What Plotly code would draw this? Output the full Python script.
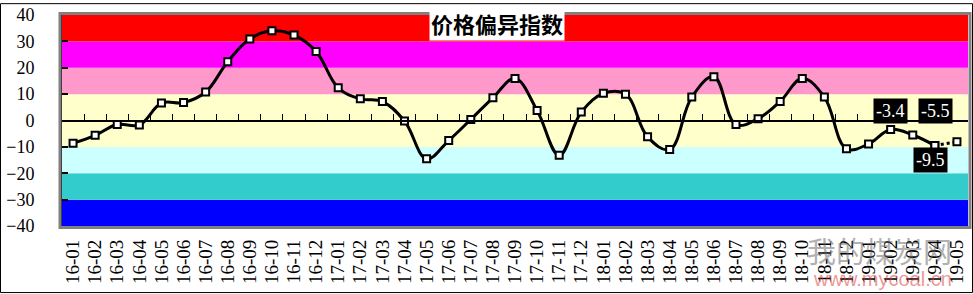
import plotly.graph_objects as go

categories = [
    "16-01", "16-02", "16-03", "16-04", "16-05", "16-06", "16-07", "16-08", "16-09", "16-10", "16-11", "16-12",
    "17-01", "17-02", "17-03", "17-04", "17-05", "17-06", "17-07", "17-08", "17-09", "17-10", "17-11", "17-12",
    "18-01", "18-02", "18-03", "18-04", "18-05", "18-06", "18-07", "18-08", "18-09", "18-10", "18-11", "18-12",
    "19-01", "19-02", "19-03", "19-04", "19-05",
]
values = [
    -8.6, -5.6, -1.5, -1.7, 6.6, 6.8, 10.8, 22.3, 30.9, 34.0, 32.4, 26.2,
    12.4, 8.2, 7.2, -0.2, -14.5, -7.6, 0.4, 8.6, 15.9, 3.8, -13.2, 3.2,
    10.3, 10.0, -6.2, -11.0, 8.9, 16.6, -1.5, 0.7, 7.2, 15.9, 8.9, -10.7,
    -8.9, -3.4, -5.5, -9.5, -8.1,
]
band_edges = [-40, -30, -20, -10, 0, 10, 20, 30, 40]
band_colors = ["#0000FF", "#33CCCC", "#CCFFFF", "#FFFFCC", "#FFFFCC", "#FF99CC", "#FF00FF", "#FF0000"]
labelled = ["19-02", "19-03", "19-04"]
label_texts = ["-3.4", "-5.5", "-9.5"]
label_shifts = [(0, 18), (23, 24), (-4, -14)]
title_text = "价格偏异指数"

n = len(categories)
W, H = 973, 294
ML, MR, MT, MB = 62, 5, 12, 68
PW, PH = W - ML - MR, H - MT - MB

fig = go.Figure()

fig.add_trace(go.Scatter(
    x=categories[:-1], y=values[:-1], mode="lines+markers",
    line=dict(color="black", width=3, shape="spline", smoothing=1.1),
    marker=dict(symbol="square", size=7, color="white", line=dict(color="black", width=2)),
    hoverinfo="skip", showlegend=False,
))
fig.add_trace(go.Scatter(
    x=categories[-2:], y=values[-2:], mode="lines+markers",
    line=dict(color="black", width=3, dash="dot"),
    marker=dict(symbol="square", size=7, color="white", line=dict(color="black", width=2)),
    hoverinfo="skip", showlegend=False,
))
fig.add_trace(go.Scatter(
    x=[-0.5, n - 0.5], y=[0, 0], xaxis="x2", mode="lines",
    line=dict(width=0), hoverinfo="skip", showlegend=False,
))

shapes = []
for i, c in enumerate(band_colors):
    shapes.append(dict(type="rect", xref="x domain", yref="y", x0=0, x1=1,
                       y0=band_edges[i], y1=band_edges[i + 1],
                       fillcolor=c, line=dict(width=0), layer="below"))
shapes.append(dict(type="rect", xref="paper", yref="paper",
                   x0=-2 / PW, x1=1 + 2 / PW, y0=-1.5 / PH, y1=1 + 1.5 / PH,
                   line=dict(color="#808080", width=3), fillcolor="rgba(0,0,0,0)", layer="above"))
shapes.append(dict(type="rect", xref="paper", yref="paper",
                   x0=(-ML + 0.5) / PW, x1=1 + (MR - 0.5) / PW,
                   y0=(-MB + 0.5) / PH, y1=1 + (MT - 0.5) / PH,
                   line=dict(color="black", width=1), fillcolor="rgba(0,0,0,0)", layer="above"))

annotations = []
for cat, txt, (dx, dy) in zip(labelled, label_texts, label_shifts):
    v = values[categories.index(cat)]
    annotations.append(dict(x=cat, y=v, xref="x", yref="y", text=txt, showarrow=False,
                            xshift=dx, yshift=dy, bgcolor="black", borderpad=2,
                            font=dict(family="Liberation Serif", size=18, color="white")))
annotations.append(dict(x=(497 - ML) / PW, y=1 + 1 / PH, xref="paper", yref="paper",
                        xanchor="center", yanchor="top", text="<b>" + title_text + "</b>",
                        showarrow=False, bgcolor="white", borderpad=1, yshift=9,
                        font=dict(family="Noto Sans CJK SC", size=22, color="black")))
annotations.append(dict(x=1 - 14 / PW, y=0, xref="paper", yref="paper",
                        xanchor="right", yanchor="top", text="我的煤炭网", showarrow=False,
                        opacity=0.5, yshift=-1,
                        font=dict(family="Noto Sans CJK SC", size=29, color="#666666")))
annotations.append(dict(x=1 - 14 / PW, y=0, xref="paper", yref="paper",
                        xanchor="right", yanchor="top", text="www.mycoal.cn", showarrow=False,
                        opacity=0.5, yshift=-40,
                        font=dict(family="Liberation Sans", size=20, color="#dd3333")))

fig.update_layout(
    width=W, height=H,
    margin=dict(l=ML, r=MR, t=MT, b=MB),
    paper_bgcolor="white", plot_bgcolor="white",
    showlegend=False,
    shapes=shapes, annotations=annotations,
    xaxis=dict(type="category", categoryorder="array", categoryarray=categories,
               range=[-0.5, n - 0.5], showgrid=False, zeroline=False, showline=False,
               tickmode="array", tickvals=categories, ticktext=categories,
               ticks="", tickangle=-90, ticklabelstandoff=9,
               tickfont=dict(family="Liberation Serif", size=19, color="black")),
    xaxis2=dict(overlaying="x", anchor="free", position=0.5, range=[-0.5, n - 0.5],
                showgrid=False, zeroline=False, showline=True, linecolor="black", linewidth=1.5,
                ticks="inside", ticklen=6, tickcolor="black", tickwidth=1,
                tickvals=[i + 0.5 for i in range(n - 1)], showticklabels=False),
    yaxis=dict(range=[-40, 40], dtick=10, showgrid=False, zeroline=False,
               showline=True, linecolor="black", linewidth=2,
               ticks="inside", ticklen=6, tickcolor="black", tickwidth=1.5,
               ticklabelstandoff=22,
               tickfont=dict(family="Liberation Serif", size=18, color="black")),
)

fig.write_html("out.html")
